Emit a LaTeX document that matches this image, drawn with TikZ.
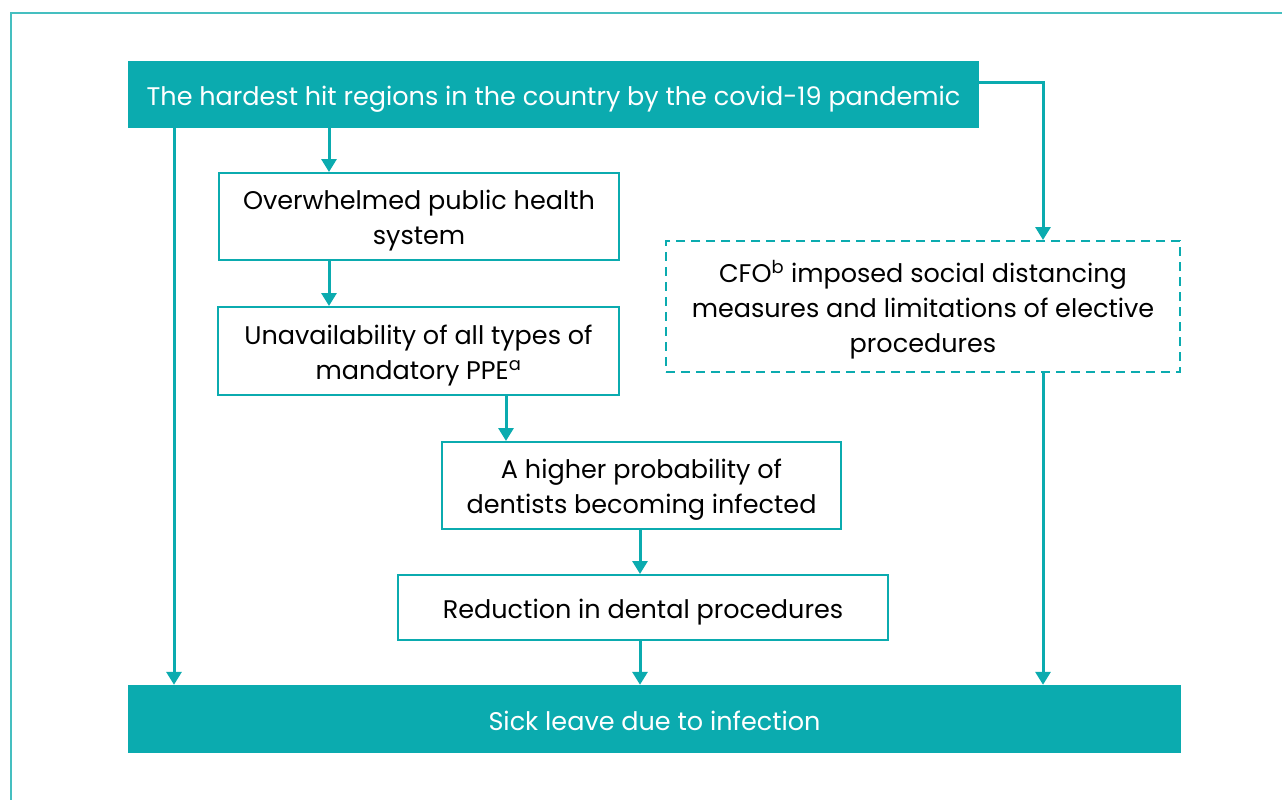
\documentclass[tikz,border=0pt]{standalone}
\usepackage{fontspec}
\setmainfont{Poppins}
\usetikzlibrary{arrows.meta}
\definecolor{teal1}{HTML}{0BABAF}
\definecolor{frame1}{HTML}{45BFC0}
\newcommand\boxstrut{\rule[-6pt]{0pt}{34pt}}
\tikzset{
  every node/.style={font=\fontsize{25.5}{35}\selectfont, align=center, inner sep=0pt},
  filledbox/.style={fill=teal1, text=white, draw=none},
  plainbox/.style={draw=teal1, line width=2pt, fill=white, text=black},
  dashbox/.style={draw=teal1, line width=2pt, dash pattern=on 9pt off 6pt, text=black},
  conn/.style={draw=teal1, line width=3pt, -{Triangle[width=15pt,length=13pt]}},
}
\begin{document}
\begin{tikzpicture}[x=1pt,y=-1pt]
\useasboundingbox (0,0) rectangle (1282,800);
\fill[white] (0,0) rectangle (1282,800);
\draw[frame1, line width=2pt] (11,800) -- (11,13) -- (1282,13);

\node[filledbox, minimum width=851pt, minimum height=67pt] (top) at (553.5,94.5) {\boxstrut The hardest hit regions in the country by the covid-19 pandemic\boxstrut};
\node[filledbox, minimum width=1053pt, minimum height=68pt] (sick) at (654.5,719) {\boxstrut Sick leave due to infection\boxstrut};
\node[plainbox, minimum width=400pt, minimum height=87pt] (over) at (419,216.5) {\boxstrut Overwhelmed public health\\system\boxstrut};
\node[plainbox, minimum width=401pt, minimum height=88pt] (ppe) at (418.5,351) {\boxstrut Unavailability of all types of\\mandatory PPE\textsuperscript{a}\boxstrut};
\node[plainbox, minimum width=399pt, minimum height=87pt] (prob) at (641.5,485.5) {\boxstrut A higher probability of\\dentists becoming infected\boxstrut};
\node[plainbox, minimum width=490pt, minimum height=65pt] (red) at (643,607.5) {\boxstrut Reduction in dental procedures\boxstrut};
\node[dashbox, minimum width=514pt, minimum height=131pt] (cfo) at (923,306.5) {\boxstrut CFO\textsuperscript{b} imposed social distancing\\measures and limitations of elective\\procedures\boxstrut};

\coordinate (xa) at (174,0);
\coordinate (xb) at (329,0);
\coordinate (xc) at (506,0);
\coordinate (xd) at (640,0);
\coordinate (xe) at (1043,0);
\coordinate (ya) at (0,82);

\draw[conn] (top.south -| xa) -- (sick.north -| xa);
\draw[conn] (top.south -| xb) -- (over.north -| xb);
\draw[conn] (over.south -| xb) -- (ppe.north -| xb);
\draw[conn] (ppe.south -| xc) -- (prob.north -| xc);
\draw[conn] (prob.south -| xd) -- (red.north -| xd);
\draw[conn] (red.south -| xd) -- (sick.north -| xd);
\draw[conn] (top.east |- ya) -- (xe |- ya) -- (cfo.north -| xe);
\draw[conn] (cfo.south -| xe) -- (sick.north -| xe);
\end{tikzpicture}
\end{document}
